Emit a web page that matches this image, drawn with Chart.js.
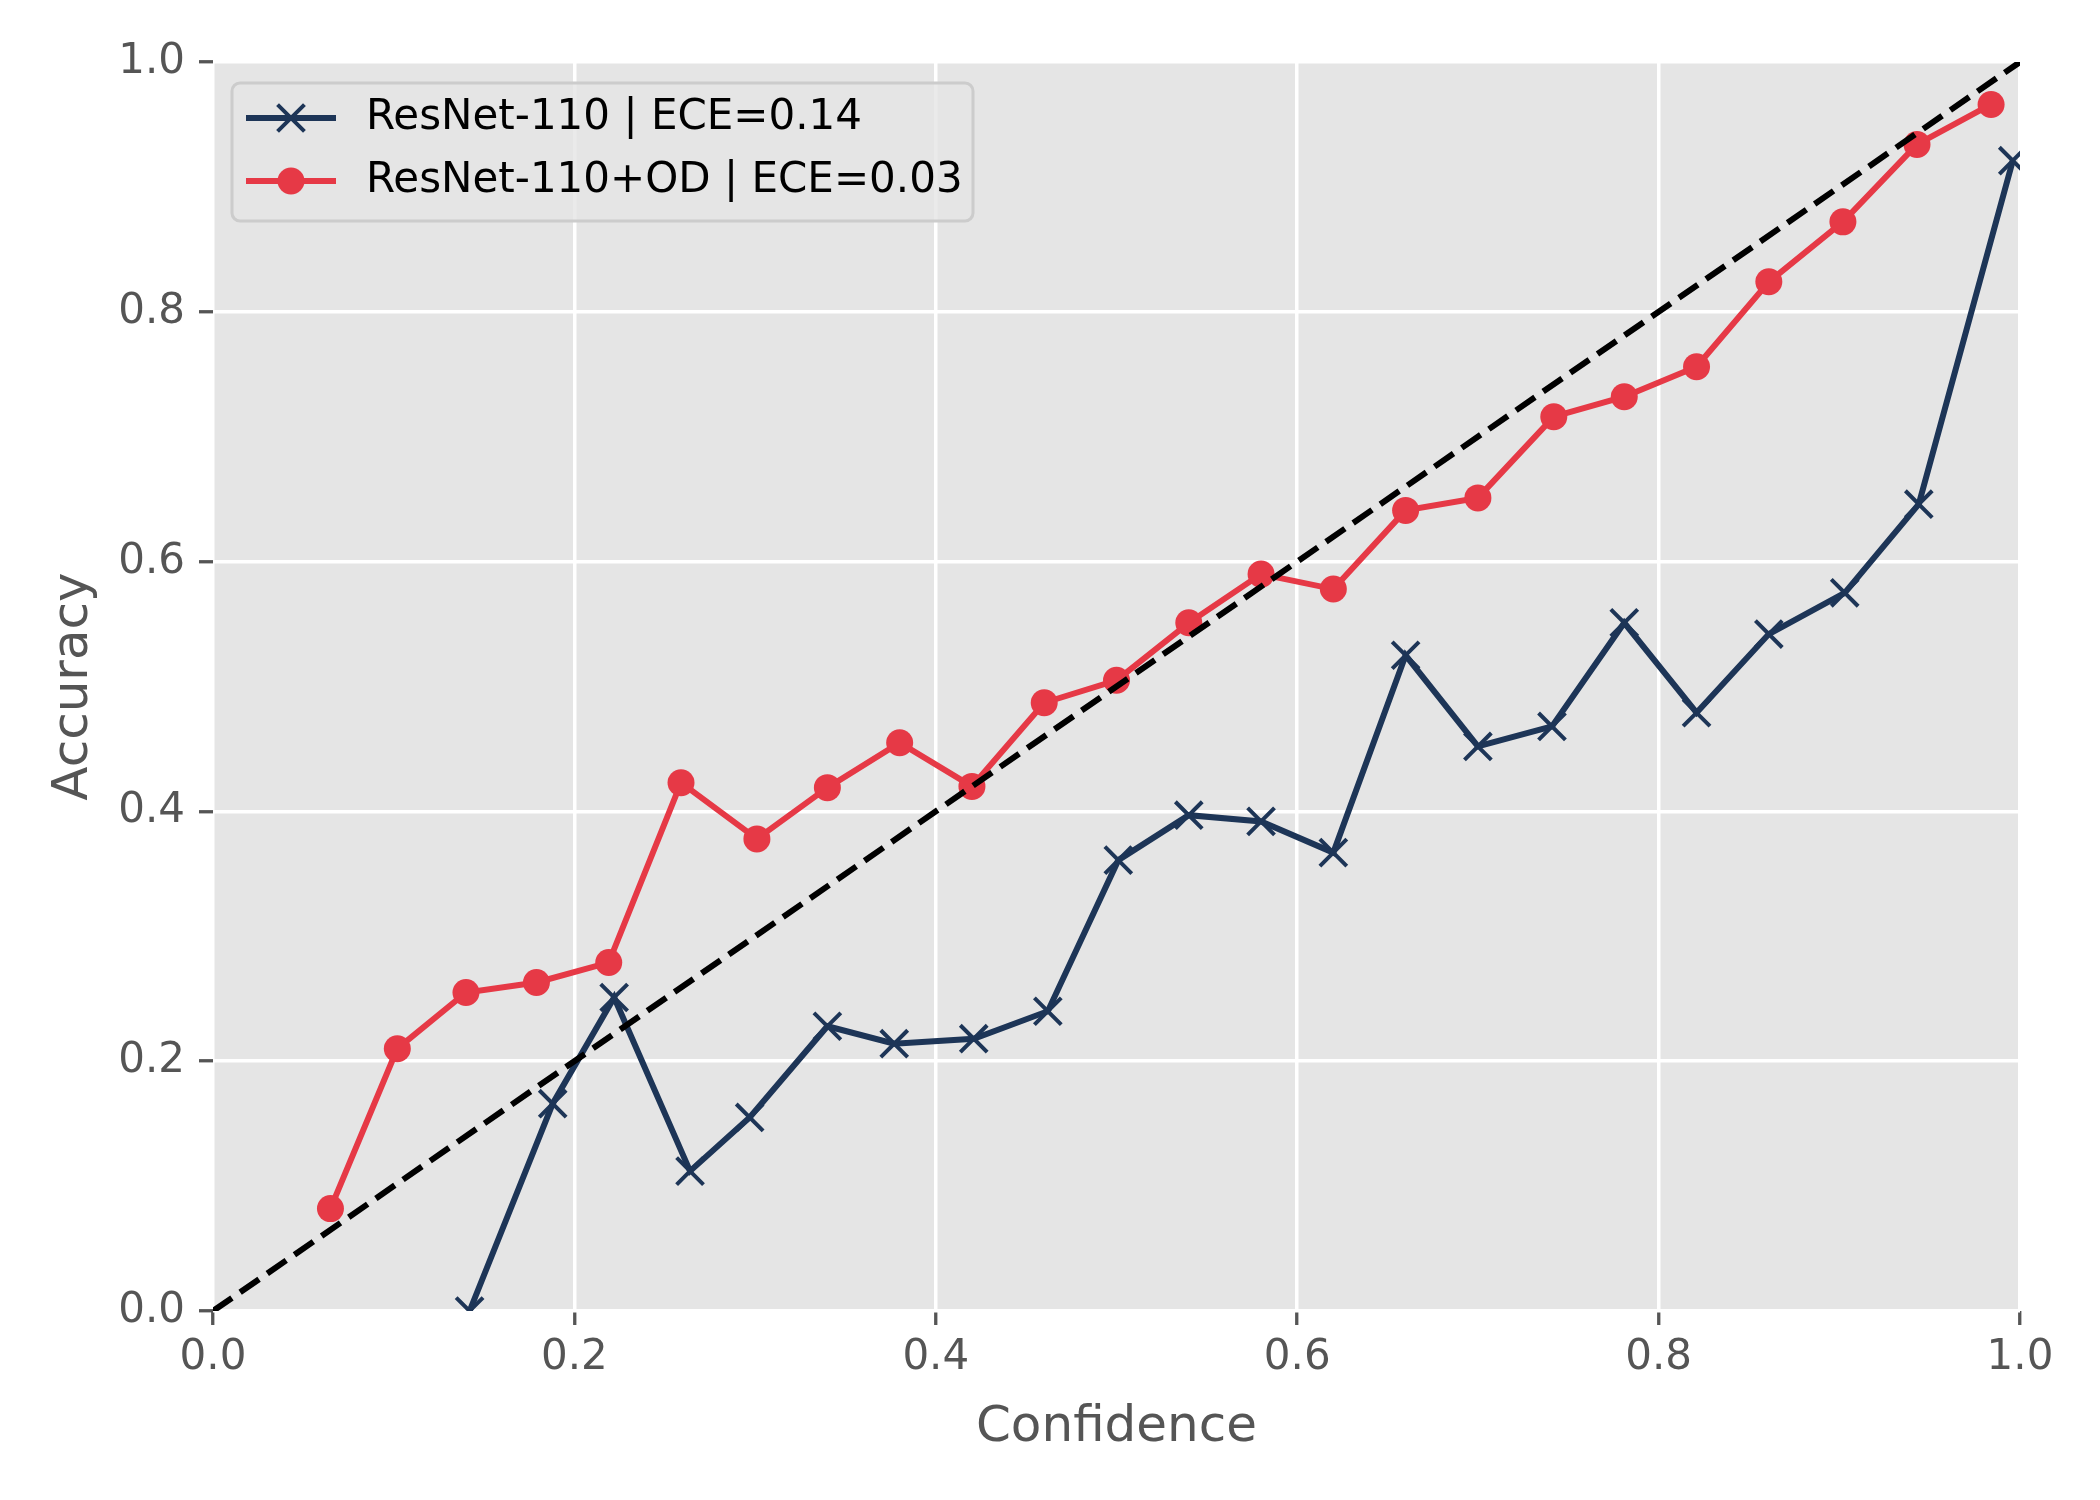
<!DOCTYPE html>
<html>
<head>
<meta charset="utf-8">
<script src="https://cdn.jsdelivr.net/npm/chart.js@4"></script>
<style>
  html, body { margin: 0; padding: 0; background: #ffffff; }
  #wrap { width: 2100px; height: 1500px; }
</style>
</head>
<body>
<div id="wrap"><canvas id="calib" width="2100" height="1500"></canvas></div>
<script>
// reliability diagram values
var baseConf = [0.142, 0.188, 0.222, 0.264, 0.297, 0.340, 0.377, 0.421, 0.462, 0.501, 0.540,
                0.580, 0.620, 0.660, 0.700, 0.741, 0.781, 0.821, 0.861, 0.903, 0.944, 0.996];
var baseAcc  = [0.000, 0.166, 0.251, 0.112, 0.155, 0.228, 0.214, 0.218, 0.240, 0.361, 0.397,
                0.392, 0.367, 0.525, 0.452, 0.468, 0.551, 0.479, 0.542, 0.575, 0.646, 0.921];

var odConf = [0.065, 0.102, 0.140, 0.179, 0.219, 0.259, 0.301, 0.340, 0.380, 0.420, 0.460, 0.500,
              0.540, 0.580, 0.620, 0.660, 0.700, 0.742, 0.781, 0.821, 0.861, 0.902, 0.943, 0.984];
var odAcc  = [0.082, 0.210, 0.255, 0.263, 0.279, 0.423, 0.378, 0.419, 0.455, 0.420, 0.487, 0.505,
              0.551, 0.590, 0.578, 0.641, 0.651, 0.716, 0.732, 0.756, 0.824, 0.872, 0.934, 0.966];

var seriesLabels = ['ResNet-110 | ECE=0.14', 'ResNet-110+OD | ECE=0.03'];
var tickValues = [0, 0.2, 0.4, 0.6, 0.8, 1.0];

var NAVY = '#1d3557';
var RED = '#e63946';
var TXT = '#555555';

function pairs(xs, ys) {
    return xs.map(function(x, i) { return {x: x, y: ys[i]}; });
}

// matplotlib style legend drawn in the axes corner
var legendBox = {
    id: 'legendBox',
    afterDraw: function(chart) {
        var ctx = chart.ctx;
        var area = chart.chartArea;
        var x0 = area.left + 19, y0 = area.top + 21, w = 741, h = 138;
        ctx.save();
        ctx.beginPath();
        ctx.roundRect(x0, y0, w, h, 8);
        ctx.fillStyle = 'rgba(229,229,229,0.8)';
        ctx.fill();
        ctx.lineWidth = 3;
        ctx.strokeStyle = '#cccccc';
        ctx.stroke();

        var rows = [chart.data.datasets[1], chart.data.datasets[2]];
        rows.forEach(function(ds, i) {
            var cy = y0 + 35 + i * 63;
            var lx = x0 + 14;
            ctx.beginPath();
            ctx.moveTo(lx, cy);
            ctx.lineTo(lx + 90, cy);
            ctx.strokeStyle = ds.borderColor;
            ctx.lineWidth = ds.borderWidth;
            ctx.stroke();
            var mx = lx + 45;
            if (ds.pointStyle === 'circle') {
                ctx.beginPath();
                ctx.arc(mx, cy, ds.pointRadius, 0, Math.PI * 2);
                ctx.fillStyle = ds.pointBackgroundColor;
                ctx.fill();
            } else {
                var r = ds.pointRadius * Math.SQRT1_2;
                ctx.beginPath();
                ctx.moveTo(mx - r, cy - r); ctx.lineTo(mx + r, cy + r);
                ctx.moveTo(mx - r, cy + r); ctx.lineTo(mx + r, cy - r);
                ctx.lineWidth = ds.pointBorderWidth;
                ctx.strokeStyle = ds.pointBorderColor;
                ctx.stroke();
            }
            ctx.fillStyle = '#000000';
            ctx.font = '42px "DejaVu Sans"';
            ctx.textBaseline = 'middle';
            ctx.textAlign = 'left';
            ctx.fillText(ds.label, x0 + 134, cy);
        });
        ctx.restore();
    }
};

var plotBackground = {
    id: 'plotBackground',
    beforeDraw: function(chart) {
        var a = chart.chartArea;
        chart.ctx.save();
        chart.ctx.fillStyle = '#e5e5e5';
        chart.ctx.fillRect(a.left, a.top, a.right - a.left, a.bottom - a.top);
        chart.ctx.restore();
    }
};

Chart.defaults.font.family = '"DejaVu Sans"';
Chart.defaults.color = TXT;

var ctx = document.getElementById('calib');

var myChart = new Chart(ctx, {
    type: 'scatter',
    data: {
        datasets: [{
            label: 'diagonal',
            data: [{x: 0, y: 0}, {x: 1, y: 1}],
            showLine: true,
            borderColor: '#000000',
            borderWidth: 6,
            borderDash: [23, 10],
            pointRadius: 0,
            clip: 0,
            order: 0
        },
        {
            label: seriesLabels[0],
            data: pairs(baseConf, baseAcc),
            showLine: true,
            borderColor: NAVY,
            backgroundColor: NAVY,
            borderWidth: 6,
            pointStyle: 'crossRot',
            pointRadius: 19,
            pointBorderWidth: 4,
            pointBorderColor: NAVY,
            pointBackgroundColor: NAVY,
            clip: 0,
            order: 2
        },
        {
            label: seriesLabels[1],
            data: pairs(odConf, odAcc),
            showLine: true,
            borderColor: RED,
            backgroundColor: RED,
            borderWidth: 6,
            pointStyle: 'circle',
            pointRadius: 13.5,
            pointBorderWidth: 0,
            pointBorderColor: RED,
            pointBackgroundColor: RED,
            clip: 0,
            order: 1
        }]
    },
    options: {
        responsive: false,
        animation: false,
        devicePixelRatio: 1,
        layout: { padding: { top: 62, right: 80, left: 0, bottom: 0 } },
        plugins: {
            legend: { display: false },
            tooltip: { enabled: false }
        },
        scales: {
            x: {
                type: 'linear',
                min: 0,
                max: 1,
                afterBuildTicks: function(scale) {
                    scale.ticks = tickValues.map(function(v) { return {value: v}; });
                },
                afterFit: function(scale) { scale.height = 189; },
                border: { display: false },
                grid: {
                    color: '#ffffff',
                    lineWidth: 3.5,
                    tickColor: TXT,
                    tickWidth: 3.3,
                    tickLength: 14
                },
                ticks: {
                    color: TXT,
                    font: { size: 42 },
                    padding: 8,
                    maxRotation: 0,
                    callback: function(v) { return v.toFixed(1); }
                },
                title: {
                    display: true,
                    text: 'Confidence',
                    color: TXT,
                    font: { size: 50 },
                    padding: { top: 0, bottom: 42 }
                }
            },
            y: {
                type: 'linear',
                min: 0,
                max: 1,
                afterBuildTicks: function(scale) {
                    scale.ticks = tickValues.map(function(v) { return {value: v}; });
                },
                afterFit: function(scale) { scale.width = 213; },
                border: { display: false },
                grid: {
                    color: '#ffffff',
                    lineWidth: 3.5,
                    tickColor: TXT,
                    tickWidth: 3.3,
                    tickLength: 14
                },
                ticks: {
                    color: TXT,
                    font: { size: 42 },
                    padding: 14,
                    callback: function(v) { return v.toFixed(1); }
                },
                title: {
                    display: true,
                    text: 'Accuracy',
                    color: TXT,
                    font: { size: 50 },
                    padding: { top: 44, bottom: 0 }
                }
            }
        }
    },
    plugins: [plotBackground, legendBox]
});
</script>
</body>
</html>
